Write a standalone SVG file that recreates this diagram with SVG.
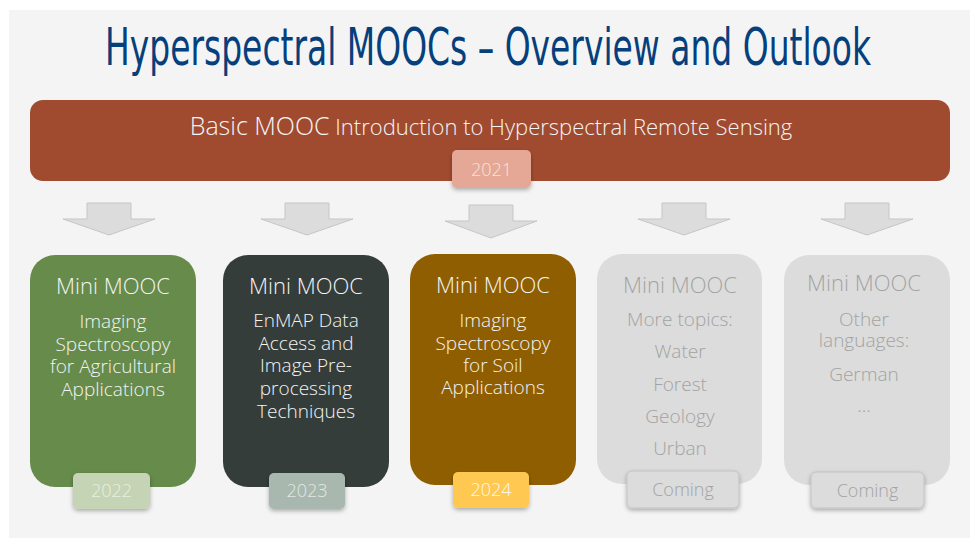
<svg xmlns="http://www.w3.org/2000/svg" width="970" height="538" viewBox="0 0 970 538">
<defs>
<filter id="sh" x="-20%" y="-20%" width="140%" height="160%">
<feDropShadow dx="0" dy="2" stdDeviation="2" flood-color="#000" flood-opacity="0.3"/>
</filter>
<style>
.t{font-family:"Open Sans","Noto Sans","DejaVu Sans",sans-serif;font-weight:300;text-anchor:middle}
.w{fill:#f4f4f4}
.g{fill:#a3a3a3}
.h{font-size:22px}
.s{font-size:19px}
.y{font-size:18px}
.arrow{fill:#dcdcdc;stroke:#c6c6c6;stroke-width:1}
.tag{filter:url(#sh)}
</style>
</defs>
<rect x="0" y="0" width="970" height="538" fill="#ffffff"/>
<rect x="9" y="10" width="961" height="528" fill="#f4f4f4"/>
<text x="488" y="65" font-family="'Liberation Sans Narrow','DejaVu Sans Condensed','Liberation Sans',sans-serif" font-size="52" fill="#06407c" text-anchor="middle" textLength="766" lengthAdjust="spacingAndGlyphs">Hyperspectral MOOCs – Overview and Outlook</text>

<g id="connectors">
<path class="arrow" d="M87,203 H131 V219 H155 L109,235 L63,219 H87 Z"/>
<path class="arrow" d="M285,203 H329 V219 H353 L307,235 L261,219 H285 Z"/>
<path class="arrow" d="M469,205 H513 V221 H537 L491,238 L445,221 H469 Z"/>
<path class="arrow" d="M662,203 H706 V219 H730 L684,235 L638,219 H662 Z"/>
<path class="arrow" d="M845,203 H889 V219 H913 L867,235 L821,219 H845 Z"/>
</g>

<g id="basic">
<rect x="30" y="100" width="920" height="81" rx="13" fill="#a04b30"/>
<text class="t w" x="491" y="135"><tspan font-size="25">Basic MOOC</tspan><tspan font-size="22"> Introduction to Hyperspectral Remote Sensing</tspan></text>
<rect class="tag" x="452" y="150" width="79" height="38" rx="5" fill="#e5a896"/>
<text class="t y" x="491.5" y="176" fill="#f7e2da">2021</text>
</g>

<g id="mini1">
<rect x="30" y="255" width="166" height="232" rx="25" fill="#668b4b"/>
<text class="t w h" x="113" y="294">Mini MOOC</text>
<text class="t w s" x="113" y="328">Imaging</text>
<text class="t w s" x="113" y="351">Spectroscopy</text>
<text class="t w s" x="113" y="373">for Agricultural</text>
<text class="t w s" x="113" y="396">Applications</text>
<rect class="tag" x="73" y="473" width="77" height="36" rx="5" fill="#c5d4b5"/>
<text class="t y" x="111.5" y="497" fill="#e9efe2">2022</text>
</g>

<g id="mini2">
<rect x="223" y="255" width="166" height="232" rx="25" fill="#343d3a"/>
<text class="t w h" x="306" y="294">Mini MOOC</text>
<text class="t w s" x="306" y="327">EnMAP Data</text>
<text class="t w s" x="306" y="350">Access and</text>
<text class="t w s" x="306" y="372">Image Pre-</text>
<text class="t w s" x="306" y="395">processing</text>
<text class="t w s" x="306" y="418">Techniques</text>
<rect class="tag" x="269" y="473" width="76" height="36" rx="5" fill="#a9b8ae"/>
<text class="t y" x="307" y="497" fill="#e2e8e4">2023</text>
</g>

<g id="mini3">
<rect x="410" y="254" width="166" height="231" rx="25" fill="#8f5e00"/>
<text class="t w h" x="493" y="293">Mini MOOC</text>
<text class="t w s" x="493" y="327">Imaging</text>
<text class="t w s" x="493" y="350">Spectroscopy</text>
<text class="t w s" x="493" y="372">for Soil</text>
<text class="t w s" x="493" y="394">Applications</text>
<rect class="tag" x="453" y="472" width="76" height="36" rx="5" fill="#fec851"/>
<text class="t y" x="491" y="496" fill="#fff8e6">2024</text>
</g>

<g id="mini4">
<rect x="597" y="254" width="165" height="230" rx="25" fill="#dcdcdc"/>
<text class="t g h" x="680" y="293">Mini MOOC</text>
<text class="t g s" x="680" y="326">More topics:</text>
<text class="t g s" x="680" y="358">Water</text>
<text class="t g s" x="680" y="391">Forest</text>
<text class="t g s" x="680" y="423">Geology</text>
<text class="t g s" x="680" y="455">Urban</text>
<rect class="tag" x="627" y="471" width="112" height="37" rx="5" fill="#dcdcdc" stroke="#c2c2c2" stroke-width="1"/>
<text class="t g y" x="683" y="496">Coming</text>
</g>

<g id="mini5">
<rect x="784" y="255" width="166" height="230" rx="25" fill="#dcdcdc"/>
<text class="t g h" x="864" y="291">Mini MOOC</text>
<text class="t g s" x="864" y="326">Other</text>
<text class="t g s" x="864" y="347">languages:</text>
<text class="t g s" x="864" y="381">German</text>
<text class="t g s" x="864" y="412">...</text>
<rect class="tag" x="811" y="472" width="113" height="36" rx="5" fill="#dcdcdc" stroke="#c2c2c2" stroke-width="1"/>
<text class="t g y" x="867.5" y="497">Coming</text>
</g>
</svg>
